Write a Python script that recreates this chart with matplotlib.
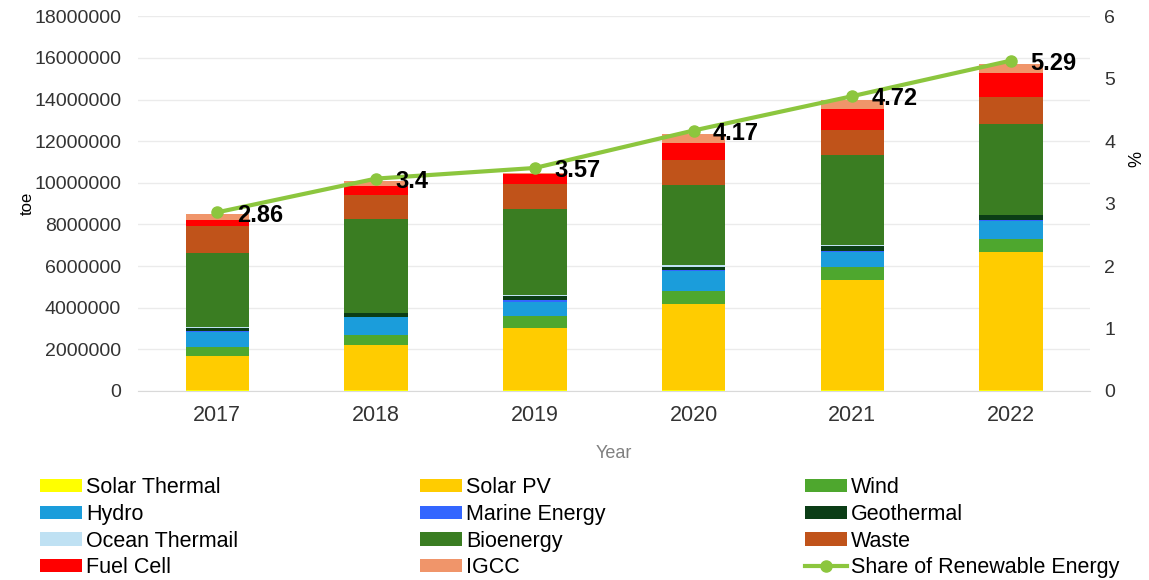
import matplotlib.pyplot as plt
import numpy as np

plt.rcParams["font.family"] = ["Liberation Sans", "DejaVu Sans"]

years = ["2017", "2018", "2019", "2020", "2021", "2022"]

# toe by source
solar_thermal = [30000, 30000, 30000, 30000, 30000, 30000]
solar_pv = [1650000, 2180000, 3010000, 4130000, 5300000, 6630000]
wind = [450000, 480000, 570000, 660000, 640000, 640000]
hydro = [720000, 850000, 680000, 930000, 720000, 870000]
marine = [20000, 30000, 90000, 80000, 40000, 40000]
geothermal = [170000, 160000, 180000, 110000, 230000, 230000]
ocean_thermal = [10000, 10000, 40000, 100000, 30000, 30000]
bioenergy = [3560000, 4530000, 4120000, 3850000, 4330000, 4370000]
waste = [1320000, 1140000, 1200000, 1200000, 1230000, 1280000]
fuel_cell = [280000, 440000, 500000, 830000, 1010000, 1170000]
igcc = [300000, 240000, 60000, 430000, 400000, 400000]

share = [2.86, 3.4, 3.57, 4.17, 4.72, 5.29]

series = [
    ("Solar Thermal", solar_thermal, "#FFFF00"),
    ("Solar PV", solar_pv, "#FFCC00"),
    ("Wind", wind, "#4EA72E"),
    ("Hydro", hydro, "#1B9DDB"),
    ("Marine Energy", marine, "#3366FF"),
    ("Geothermal", geothermal, "#0B3D16"),
    ("Ocean Thermail", ocean_thermal, "#BFE1F3"),
    ("Bioenergy", bioenergy, "#3A7D22"),
    ("Waste", waste, "#C0531A"),
    ("Fuel Cell", fuel_cell, "#FF0000"),
    ("IGCC", igcc, "#F0956A"),
]

fig = plt.figure(figsize=(11.49, 5.80), dpi=100)
ax = fig.add_axes([0.12, 0.326, 0.829, 0.646])
x = np.arange(len(years))

handles = []
bottom = np.zeros(len(years))
for name, vals, color in series:
    b = ax.bar(x, vals, 0.4, bottom=bottom, color=color, label=name, zorder=2)
    handles.append(b)
    bottom += np.array(vals)

ax.set_xlim(-0.5, len(years) - 0.5)
ax.set_ylim(0, 18000000)
ax.set_yticks(np.arange(0, 18000001, 2000000))
ax.set_yticklabels([str(v) for v in range(0, 18000001, 2000000)])
ax.set_xticks(x)
ax.set_xticklabels(years)
ax.tick_params(axis="y", length=0, labelsize=14, colors="#333333", pad=12)
ax.tick_params(axis="x", length=0, labelsize=15.5, colors="#333333", pad=10)
ax.grid(axis="y", color="#ebebeb", linewidth=1, zorder=0)
for s in ["top", "right", "left"]:
    ax.spines[s].set_visible(False)
ax.spines["bottom"].set_color("#d9d9d9")
ax.set_ylabel("toe", fontsize=12)
ax.yaxis.set_label_coords(-0.108, 0.5)
ax.set_xlabel("Year", fontsize=13, color="#808080")
ax.xaxis.set_label_coords(0.5, -0.145)

ax2 = ax.twinx()
line, = ax2.plot(x, share, color="#8CC63E", linewidth=3, marker="o",
                 markersize=8, label="Share of Renewable Energy", zorder=3)
ax2.set_ylim(0, 6)
ax2.set_yticks(range(0, 7))
ax2.tick_params(axis="y", length=0, labelsize=14, colors="#333333", pad=10)
for s in ["top", "right", "left", "bottom"]:
    ax2.spines[s].set_visible(False)
ax2.set_ylabel("%", fontsize=13)
ax2.yaxis.set_label_coords(1.04, 0.62)

for xi, v in zip(x, share):
    ax2.annotate(f"{v:g}", (xi, v), xytext=(14, -2), textcoords="offset points",
                 ha="left", va="center", fontsize=17, fontweight="bold", color="black")

handles.append(line)
# three legend columns, read row by row
col_x = [40 / 1149, 420 / 1149, 805 / 1149]
for c in range(3):
    hs = handles[c::3]
    fig.legend(hs, [h.get_label() for h in hs], loc="upper left",
               bbox_to_anchor=(col_x[c], 1 - 477 / 580), frameon=False,
               fontsize=15.5, handlelength=1.95, handleheight=0.57,
               handletextpad=0.2, labelspacing=0.27, borderpad=0,
               borderaxespad=0)

fig.savefig("out.png", dpi=100)
